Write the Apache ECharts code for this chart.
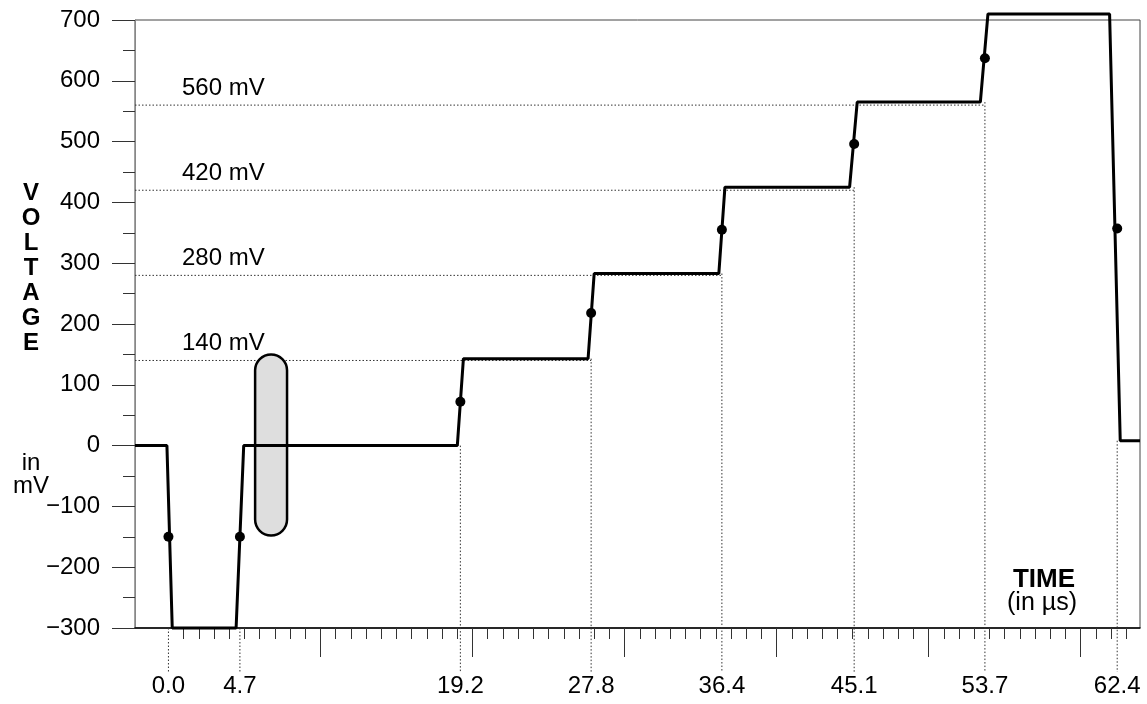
<!DOCTYPE html>
<html>
<head>
<meta charset="utf-8">
<script src="https://cdn.jsdelivr.net/npm/echarts@6/dist/echarts.min.js"></script>
<style>
html,body{margin:0;padding:0;background:#fff;}
#chart{width:1147px;height:704px;}
</style>
</head>
<body>
<div id="chart"></div>
<script>
// ---- data ----
const curveT = [-2.2, -0.1, 0.25, 4.45, 4.95, 19.0, 19.4, 27.6, 28.0, 36.2, 36.6, 44.8, 45.3, 53.4, 53.9, 61.9, 62.6, 63.9];
const curveV = [0, 0, -300, -300, 0, 0, 143, 143, 283, 283, 425, 425, 565, 565, 710, 710, 8, 8];
const markT = [0.0, 4.7, 19.2, 27.8, 36.4, 45.1, 53.7, 62.4];
const markV = [-150, -150, 72, 218, 355, 496, 637, 357];
const guideTop = [-300, -300, 0, 143, 283, 425, 565, 8];
const refLevels = [140, 280, 420, 560];
const refEnd = [27.8, 36.4, 45.1, 53.7];
const blobT = [5.7, 7.8];
const blobV = [-148, 150];
const xMajorTicks = [10, 20, 30, 40, 50, 60];
const xMinorTicks = [1,2,3,4,5,6,7,8,9,11,12,13,14,15,16,17,18,19,21,22,23,24,25,26,27,28,29,31,32,33,34,35,36,37,38,39,41,42,43,44,45,46,47,48,49,51,52,53,54,55,56,57,58,59,61,62,63];
const xMin = -2.2, xMax = 63.9;
const yMin = -300, yMax = 700, yStep = 100;

const FONT = '"Liberation Sans", Arial, Helvetica, sans-serif';
const chart = echarts.init(document.getElementById('chart'), null, {renderer: 'canvas'});

const option = {
  animation: false,
  backgroundColor: '#fff',
  grid: {left: 135, right: 7, top: 20, bottom: 76, show: true, borderColor: '#444', borderWidth: 1, backgroundColor: 'transparent'},
  xAxis: [
    {
      type: 'value', min: xMin, max: xMax,
      axisLine: {show: true, onZero: false, lineStyle: {color: '#000', width: 1.5}},
      axisTick: {show: true, customValues: xMajorTicks, length: 29, lineStyle: {color: '#333', width: 1}},
      axisLabel: {show: true, customValues: markT, margin: 46, fontFamily: FONT, fontSize: 24, color: '#000',
        formatter: v => Number(v).toFixed(1)},
      splitLine: {show: false}
    },
    {
      type: 'value', min: xMin, max: xMax, position: 'bottom',
      axisLine: {show: false, onZero: false},
      axisTick: {show: true, customValues: xMinorTicks, length: 11, lineStyle: {color: '#333', width: 1}},
      axisLabel: {show: false},
      splitLine: {show: false}
    }
  ],
  yAxis: {
    type: 'value', min: yMin, max: yMax, interval: yStep,
    axisLine: {show: true, onZero: false, lineStyle: {color: '#888', width: 1}},
    axisTick: {show: true, length: 23, lineStyle: {color: '#333', width: 1}},
    minorTick: {show: true, splitNumber: 2, length: 12, lineStyle: {color: '#333', width: 1}},
    axisLabel: {margin: 35, fontFamily: FONT, fontSize: 24, color: '#000',
      formatter: v => String(v).replace('-', '\u2212')},
    splitLine: {show: false}
  },
  graphic: [
    {type: 'text', x: 31, y: 181, style: {text: 'V\nO\nL\nT\nA\nG\nE', font: 'bold 24px ' + FONT, fill: '#000', align: 'center', lineHeight: 25}},
    {type: 'text', x: 31, y: 452, style: {text: 'in\nmV', font: '24px ' + FONT, fill: '#000', align: 'center', lineHeight: 23}},
    {type: 'text', x: 1044, y: 567, style: {text: 'TIME', font: 'bold 26px ' + FONT, fill: '#000', align: 'center'}},
    {type: 'text', x: 1042, y: 591, style: {text: '(in \u00b5s)', font: '25px ' + FONT, fill: '#000', align: 'center'}}
  ],
  series: [
    {
      // vertical dotted guides from step down past the axis
      type: 'custom', xAxisIndex: 0, clip: false, z: 2, silent: true,
      data: markT.map((t, i) => [t, guideTop[i]]),
      renderItem: (params, api) => {
        const t = api.value(0), v = api.value(1);
        const p1 = api.coord([t, v]);
        const p0 = api.coord([t, yMin]);
        return {type: 'line', shape: {x1: p1[0], y1: p1[1], x2: p0[0], y2: p0[1] + 44},
          style: {stroke: '#333', lineWidth: 1, lineDash: [1.5, 2]}};
      }
    },
    {
      // horizontal reference levels with labels
      type: 'custom', xAxisIndex: 0, clip: false, z: 2, silent: true,
      data: refLevels.map((v, i) => [v, refEnd[i]]),
      renderItem: (params, api) => {
        const v = api.value(0), e = api.value(1);
        const a = api.coord([xMin, v]);
        const b = api.coord([e, v]);
        return {type: 'group', children: [
          {type: 'line', shape: {x1: a[0], y1: a[1], x2: b[0], y2: b[1]},
            style: {stroke: '#333', lineWidth: 1, lineDash: [1.5, 2]}},
          {type: 'text', x: a[0] + 47, y: a[1] - 5,
            style: {text: v + ' mV', font: '24px ' + FONT, fill: '#000', verticalAlign: 'bottom'}}
        ]};
      }
    },
    {
      // shaded stadium marker
      type: 'custom', xAxisIndex: 0, clip: false, z: 3, silent: true,
      data: [[blobT[0], blobT[1], blobV[0], blobV[1]]],
      renderItem: (params, api) => {
        const tl = api.coord([api.value(0), api.value(3)]);
        const br = api.coord([api.value(1), api.value(2)]);
        const w = br[0] - tl[0], h = br[1] - tl[1];
        return {type: 'rect', shape: {x: tl[0], y: tl[1], width: w, height: h, r: w / 2},
          style: {fill: '#dedede', stroke: '#000', lineWidth: 2.5}};
      }
    },
    {
      type: 'line', xAxisIndex: 0, clip: false, z: 5, silent: true,
      data: curveT.map((t, i) => [t, curveV[i]]),
      symbol: 'none', lineStyle: {color: '#000', width: 3}
    },
    {
      type: 'scatter', xAxisIndex: 0, z: 6, silent: true,
      data: markT.map((t, i) => [t, markV[i]]),
      symbol: 'circle', symbolSize: 10, itemStyle: {color: '#000', opacity: 1}
    }
  ]
};
chart.setOption(option);
</script>
</body>
</html>
